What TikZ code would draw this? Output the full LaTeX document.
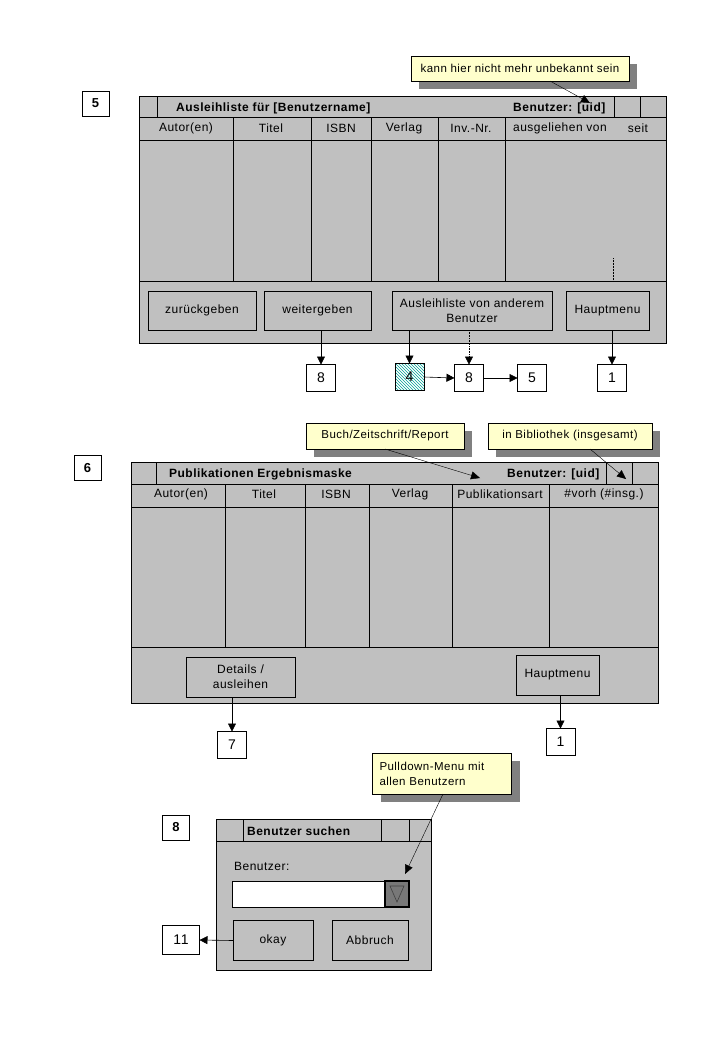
\documentclass[tikz,border=0pt]{standalone}
\usepackage{fontspec}
\setmainfont{Liberation Sans}[LetterSpace=4]
\usetikzlibrary{arrows.meta,patterns,shadows}
\definecolor{wingray}{RGB}{192,192,192}
\definecolor{noteyellow}{RGB}{255,255,204}
\definecolor{shadowgray}{RGB}{128,128,128}
\definecolor{hatchcol}{RGB}{0,160,150}
\definecolor{ddgray}{RGB}{120,120,120}
\begin{document}
\begin{tikzpicture}[x=1pt,y=-1pt,
  frame/.style={draw, fill=wingray, line width=0.8pt, anchor=north west, inner sep=0pt, outer sep=0pt},
  btn/.style={draw, fill=wingray, line width=0.8pt, inner sep=0pt, outer sep=0pt, align=center, font=\fontsize{12}{15}\selectfont},
  numbox/.style={draw, fill=white, line width=0.6pt, inner sep=0pt, outer sep=0pt, minimum width=29pt, minimum height=27pt, font=\fontsize{14}{16}\selectfont},
  bignum/.style={draw, fill=white, line width=0.8pt, inner sep=0pt, minimum width=27pt, minimum height=25pt, font=\bfseries\fontsize{13}{15}\selectfont},
  hdr/.style={inner sep=0pt, font=\fontsize{12}{14}\selectfont},
  ttl/.style={inner sep=0pt, anchor=west, font=\bfseries\fontsize{12}{14}\selectfont},
  note/.style={draw, fill=noteyellow, line width=0.6pt, inner sep=0pt, outer sep=0pt, font=\fontsize{11.5}{15}\selectfont,
     drop shadow={shadow xshift=8pt, shadow yshift=-8pt, fill=shadowgray, opacity=1}},
  arr/.style={-{Triangle[width=8pt,length=8pt]}, line width=0.6pt},
  thinarr/.style={-{Triangle[width=8pt,length=9pt]}, line width=0.4pt}
]
\useasboundingbox[fill=white] (0,0) rectangle (719,1039);

%%%%%%%%%%%%%%%% Screen 5
\node[bignum] (s5) at (95.5,103.5) {5};
\node[frame, minimum width=527pt, minimum height=247pt] (f5) at (139,96) {};
\draw[line width=0.6pt] (139,117) -- (666,117);
\draw[line width=0.6pt] (157,96) -- (157,117) (614,96) -- (614,117) (640,96) -- (640,117);
\draw[line width=0.6pt] (139,140) -- (666,140);
\draw[line width=0.8pt] (139,281) -- (666,281);
\foreach \xx in {233,311,371,438,505} \draw[line width=0.6pt] (\xx,117) -- (\xx,281);
\draw[densely dotted, line width=0.5pt] (613,258) -- (613,281);
\node[ttl] (t5) at (176,108) {Ausleihliste für [Benutzername]};
\node[ttl] (u5) at (513,108) {Benutzer: [uid]};
\node[hdr] (h5a) at (186,128.5) {Autor(en)};
\node[hdr] (h5b) at (271,128.5) {Titel};
\node[hdr] (h5c) at (341,128.5) {ISBN};
\node[hdr] (h5d) at (404,128.5) {Verlag};
\node[hdr] (h5e) at (471,128.5) {Inv.-Nr.};
\node[hdr] (h5f) at (560,128.5) {ausgeliehen von};
\node[hdr] (h5g) at (638,128.5) {seit};

\node[btn, minimum width=108pt, minimum height=39pt] (zb) at (202,310.5) {zurückgeben};
\node[btn, minimum width=107pt, minimum height=39pt] (wg) at (317.5,310.5) {weitergeben};
\node[btn, minimum width=160pt, minimum height=39pt] (al) at (472,310.5) {Ausleihliste von anderem\\Benutzer};
\node[btn, minimum width=83pt, minimum height=39pt] (hm5) at (607.5,310.5) {Hauptmenu};

\node[numbox] (n8a) at (321,378) {8};
\node[numbox, pattern=north west lines, pattern color=hatchcol] (n4) at (409.5,377) {};
\node[hdr, font=\fontsize{14}{16}\selectfont] (n4t) at (409.5,377) {4};
\node[numbox] (n8b) at (469,378) {8};
\node[numbox] (n5) at (532,378) {5};
\node[numbox] (n1a) at (612,378) {1};

\draw[arr] (wg.south -| n8a.north) -- (n8a.north);
\draw[arr] (al.south -| n4.north) -- (n4.north);
\draw[arr, densely dotted, line width=0.5pt] (al.south -| n8b.north) -- (n8b.north);
\draw[arr] (n4.east) -- (n8b.west);
\draw[arr] (n8b.east) -- (n5.west);
\draw[arr] (hm5.south -| n1a.north) -- (n1a.north);

\node[note, minimum width=218pt, minimum height=25pt] (c1) at (520,68.5) {kann hier nicht mehr unbekannt sein};
\coordinate (t1) at (590,103);
\draw[thinarr] ([xshift=30pt]c1.south) -- (t1);

%%%%%%%%%%%%%%%% Screen 6
\node[bignum] (s6) at (87.5,468) {6};
\node[frame, minimum width=527pt, minimum height=241pt] (f6) at (131,462) {};
\draw[line width=0.6pt] (131,484) -- (658,484);
\draw[line width=0.6pt] (156,462) -- (156,484) (606,462) -- (606,484) (632,462) -- (632,484);
\draw[line width=0.6pt] (131,507) -- (658,507);
\draw[line width=0.8pt] (131,647) -- (658,647);
\foreach \xx in {225,305,369,452,549} \draw[line width=0.6pt] (\xx,484) -- (\xx,647);
\node[ttl] (t6) at (169,474) {Publikationen Ergebnismaske};
\node[ttl] (u6) at (507,474) {Benutzer: [uid]};
\node[hdr] (h6a) at (181,494.5) {Autor(en)};
\node[hdr] (h6b) at (264,494.5) {Titel};
\node[hdr] (h6c) at (336,494.5) {ISBN};
\node[hdr] (h6d) at (410,494.5) {Verlag};
\node[hdr] (h6e) at (500,494.5) {Publikationsart};
\node[hdr] (h6f) at (604,494.5) {\#vorh (\#insg.)};

\node[btn, minimum width=109pt, minimum height=40pt] (det) at (240.5,677) {Details /\\ausleihen};
\node[btn, minimum width=83pt, minimum height=40pt] (hm6) at (557.5,675) {Hauptmenu};
\node[numbox] (n7) at (232,745) {7};
\node[numbox] (n1b) at (560.5,742) {1};
\draw[arr] (det.south -| n7.north) -- (n7.north);
\draw[arr] (hm6.south -| n1b.north) -- (n1b.north);

\node[note, minimum width=158pt, minimum height=26pt] (c2) at (385,436) {Buch/Zeitschrift/Report};
\node[note, minimum width=164pt, minimum height=26pt] (c3) at (570,436) {in Bibliothek (insgesamt)};
\coordinate (t2) at (480,478);
\coordinate (t3) at (626,479);
\draw[thinarr] (c2.south) -- (t2);
\draw[thinarr] ([xshift=20pt]c3.south) -- (t3);

%%%%%%%%%%%%%%%% Screen 8
\node[bignum] (s8) at (176,827.5) {8};
\node[frame, minimum width=215pt, minimum height=151pt] (f8) at (216,819) {};
\draw[line width=0.6pt] (216,841) -- (431,841);
\draw[line width=0.6pt] (243,819) -- (243,841) (381,819) -- (381,841) (409,819) -- (409,841);
\node[ttl] (t8) at (247,831) {Benutzer suchen};
\node[hdr, anchor=west] (lb8) at (234,866) {Benutzer:};
\node[draw, fill=white, line width=0.6pt, anchor=north west, minimum width=153pt, minimum height=26pt, inner sep=0pt, outer sep=0pt] (fld) at (232,881) {};
\node[draw, fill=ddgray, line width=1.2pt, anchor=north west, minimum width=24pt, minimum height=26pt, inner sep=0pt, outer sep=0pt] (dd) at (385,881) {};
\draw[fill=ddgray, draw=black!75, line width=0.6pt] (390,886) -- (404,886) -- (397,902) -- cycle;
\node[btn, minimum width=80pt, minimum height=40pt] (ok) at (273,940.5) {okay};
\node[btn, minimum width=76pt, minimum height=40pt] (ab) at (370,940.5) {Abbruch};
\node[numbox, minimum width=37pt, minimum height=29pt] (n11) at (181,940) {11};
\draw[arr] (ok.west) -- (n11.east);

\node[note, minimum width=139pt, minimum height=41pt, align=left, text width=125pt] (c4) at (442,773.5) {Pulldown-Menu mit\\allen Benutzern};
\coordinate (t4) at (405,874);
\draw[thinarr] ([xshift=1pt]c4.south) -- (t4);
\end{tikzpicture}
\end{document}
